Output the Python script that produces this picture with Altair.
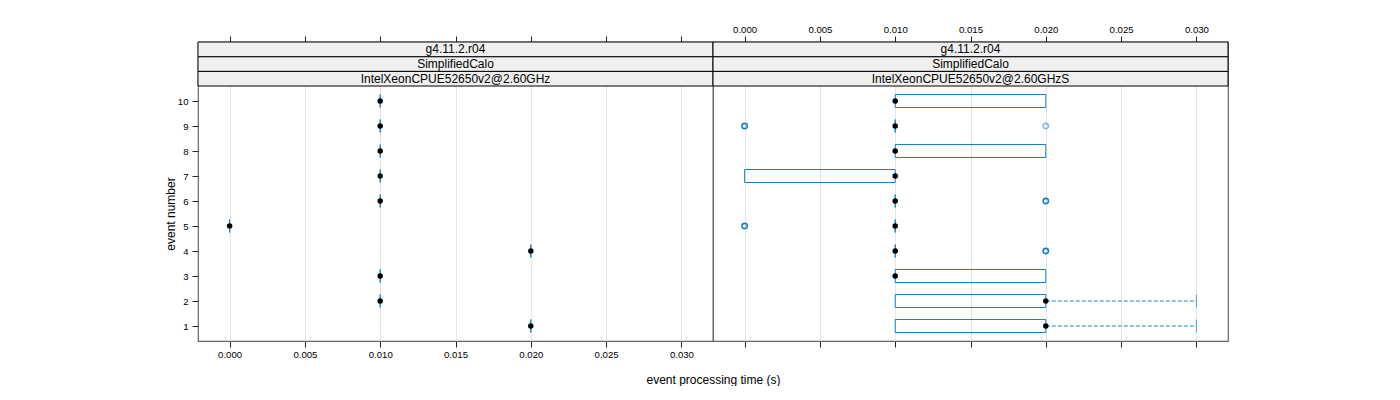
import altair as alt
import pandas as pd

# ---------------- data ----------------
events = list(range(1, 11))

# left panel (one measurement per event)
left_time = [0.02, 0.01, 0.01, 0.02, 0.00, 0.01, 0.01, 0.01, 0.01, 0.01]

# right panel box statistics per event (event 1..10)
right_q1 = [0.01, 0.01, 0.01, 0.01, 0.01, 0.01, 0.00, 0.01, 0.01, 0.01]
right_med = [0.02, 0.02, 0.01, 0.01, 0.01, 0.01, 0.01, 0.01, 0.01, 0.01]
right_q3 = [0.02, 0.02, 0.02, 0.01, 0.01, 0.01, 0.01, 0.02, 0.01, 0.02]
right_wlo = [0.01, 0.01, 0.01, 0.01, 0.01, 0.01, 0.00, 0.01, 0.01, 0.01]
right_whi = [0.03, 0.03, 0.02, 0.01, 0.01, 0.01, 0.01, 0.02, 0.01, 0.02]

# right panel outliers
out_event = [4, 5, 6, 9, 9]
out_time = [0.02, 0.00, 0.02, 0.00, 0.02]
out_count = [2, 2, 3, 2, 1]

strip_left = ["g4.11.2.r04", "SimplifiedCalo", "IntelXeonCPUE52650v2@2.60GHz"]
strip_right = ["g4.11.2.r04", "SimplifiedCalo", "IntelXeonCPUE52650v2@2.60GHzS"]

x_ticks = [0.0, 0.005, 0.01, 0.015, 0.02, 0.025, 0.03]

# ---------------- layout constants ----------------
W = 515
PLOT_H = 255
STRIP_H = 44 / 3
Y_LO, Y_HI = 0.4, 10.6
UNIT = PLOT_H / (Y_HI - Y_LO)
STRIP_U = STRIP_H / UNIT
Y_TOP = Y_HI + 3 * STRIP_U
XMIN, XMAX = -0.0021, 0.0321
BLUE = "#1a80c4"
FONT = "Liberation Sans"


def box_frame(q1, med, q3, wlo, whi):
    return pd.DataFrame({"event": events, "q1": q1, "med": med, "q3": q3,
                         "wlo": wlo, "whi": whi})


def strip_frame(labels):
    rows = []
    for i, lab in enumerate(reversed(labels)):
        s0 = Y_HI + i * STRIP_U
        rows.append({"label": lab, "s0": s0, "s1": s0 + STRIP_U, "ym": s0 + STRIP_U / 2})
    return pd.DataFrame(rows)


def column(df_box, df_out, strips, left):
    xscale = alt.Scale(domain=[XMIN, XMAX], nice=False, zero=False, padding=0)
    yscale = alt.Scale(domain=[Y_LO, Y_TOP], nice=False, zero=False, padding=0)
    if left:
        yaxis = alt.Axis(values=events, title="event number", grid=False, domain=False,
                         tickSize=6, tickColor="#222", labelFontSize=9.6, labelPadding=4,
                         labelColor="black", titleFontSize=12, titleFontWeight="normal",
                         titleColor="black", titleX=-28, titleY=3 * STRIP_H + PLOT_H / 2,
                         titleAngle=-90, titleAlign="center", titleBaseline="middle")
        bottom_axis = alt.Axis(orient="bottom", values=x_ticks, format=".3f", grid=True,
                               gridColor="#e6e6e6", domain=False, tickSize=6, tickColor="#222",
                               labelFontSize=9.6, labelPadding=2, labelColor="black",
                               title="event processing time (s)", titleFontSize=12,
                               titleFontWeight="normal", titleColor="black",
                               titleX=W, titleY=38, titleAlign="center", titleBaseline="middle")
        top_axis = alt.Axis(orient="top", values=x_ticks, grid=False, domain=False,
                            tickSize=6, tickColor="#222", labels=False, title=None)
    else:
        yaxis = None
        bottom_axis = alt.Axis(orient="bottom", values=x_ticks, grid=True, gridColor="#e6e6e6",
                               domain=False, tickSize=6, tickColor="#222", labels=False, title=None)
        top_axis = alt.Axis(orient="top", values=x_ticks, format=".3f", grid=False, domain=False,
                            tickSize=6, tickColor="#222", labelFontSize=9.6, labelPadding=2,
                            labelColor="black", title=None)

    Y = alt.Y("event:Q", scale=yscale, axis=yaxis)

    base = alt.Chart(df_box)

    boxes = base.mark_bar(orient="horizontal", size=13, fillOpacity=0, stroke=BLUE,
                          strokeWidth=1.0).encode(
        x=alt.X("q1:Q", scale=xscale, axis=bottom_axis),
        x2="q3:Q",
        y=Y,
    )
    whisk_hi = base.transform_filter("datum.whi > datum.q3").mark_rule(
        color=BLUE, strokeDash=[4, 2], strokeWidth=1.0).encode(
        x=alt.X("q3:Q", scale=xscale, axis=None), x2="whi:Q", y=Y)
    cap_hi = base.transform_filter("datum.whi > datum.q3").mark_tick(
        orient="vertical", size=13, thickness=1.0, color=BLUE, strokeDash=[3, 2]).encode(
        x=alt.X("whi:Q", scale=xscale, axis=None), y=Y)
    whisk_lo = base.transform_filter("datum.wlo < datum.q1").mark_rule(
        color=BLUE, strokeDash=[4, 2], strokeWidth=1.0).encode(
        x=alt.X("wlo:Q", scale=xscale, axis=None), x2="q1:Q", y=Y)
    cap_lo = base.transform_filter("datum.wlo < datum.q1").mark_tick(
        orient="vertical", size=13, thickness=1.0, color=BLUE, strokeDash=[3, 2]).encode(
        x=alt.X("wlo:Q", scale=xscale, axis=None), y=Y)

    layers = [boxes, whisk_hi, cap_hi, whisk_lo, cap_lo]

    if df_out is not None:
        outs = alt.Chart(df_out).mark_point(shape="circle", filled=False, size=28,
                                            strokeWidth=1.6, color=BLUE).encode(
            x=alt.X("time:Q", scale=xscale, axis=None),
            y=alt.Y("event:Q", scale=yscale, axis=yaxis),
            opacity=alt.Opacity("count:Q",
                                scale=alt.Scale(domain=[1, 2], range=[0.5, 1.0], clamp=True),
                                legend=None),
        )
        layers.append(outs)

    meds = base.mark_circle(size=30, color="black", opacity=1).encode(
        x=alt.X("med:Q", scale=xscale, axis=top_axis),
        y=Y,
    )
    layers.append(meds)

    sdf = strip_frame(strips)
    srect = alt.Chart(sdf).mark_rect(fill="#f0f0f0", stroke="black", strokeWidth=1).encode(
        x=alt.value(0), x2=alt.value(W),
        y=alt.Y("s0:Q", scale=yscale, axis=yaxis), y2="s1:Q",
    )
    stext = alt.Chart(sdf).mark_text(fontSize=12, font=FONT, color="black",
                                     align="center", baseline="middle").encode(
        x=alt.value(W / 2),
        y=alt.Y("ym:Q", scale=yscale, axis=yaxis),
        text="label:N",
    )
    layers += [srect, stext]

    return alt.layer(*layers).resolve_axis(x="independent").properties(
        width=W, height=PLOT_H + 3 * STRIP_H)


left_df = box_frame(left_time, left_time, left_time, left_time, left_time)
right_df = box_frame(right_q1, right_med, right_q3, right_wlo, right_whi)
out_df = pd.DataFrame({"event": out_event, "time": out_time, "count": out_count})

left_col = column(left_df, None, strip_left, True)
right_col = column(right_df, out_df, strip_right, False)

chart = alt.hconcat(left_col, right_col, spacing=0, bounds="flush").properties(
    padding={"left": 155, "top": 15, "right": 5, "bottom": 0}
).configure(font=FONT).configure_view(stroke="#666", strokeWidth=1.2)

chart.save("out.html", embed_options={"renderer": "svg", "actions": False})
